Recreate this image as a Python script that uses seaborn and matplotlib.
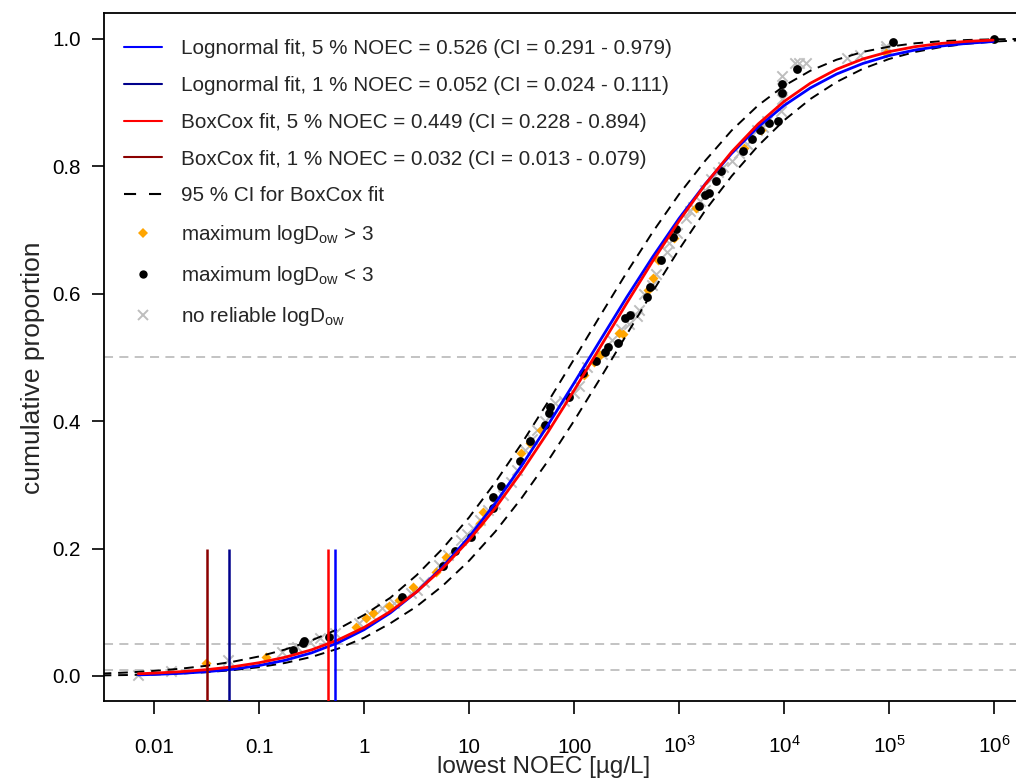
import numpy as np
import pandas as pd
import matplotlib
matplotlib.use("Agg")
import matplotlib.pyplot as plt
import seaborn as sns
from matplotlib.lines import Line2D
from matplotlib.legend_handler import HandlerLine2D

# ── values (x given as log10 of lowest NOEC in µg/L) ──
fit_log_noec = [-2.15, -2.0, -1.75, -1.5, -1.25, -1.0, -0.75, -0.5, -0.25, 0.0,
                0.25, 0.5, 0.75, 1.0, 1.25, 1.5, 1.75, 2.0, 2.25, 2.5,
                2.75, 3.0, 3.25, 3.5, 3.75, 4.0, 4.25, 4.5, 4.75, 5.0,
                5.25, 5.5, 5.75, 5.99]
lognormal_cdf = [0.00179, 0.00247, 0.00412, 0.00672, 0.01064, 0.01643, 0.02477, 0.03633,
                 0.05208, 0.07270, 0.09905, 0.13199, 0.17157, 0.21827, 0.27125, 0.32997,
                 0.39358, 0.45977, 0.52711, 0.59406, 0.65800, 0.71802, 0.77217, 0.81991,
                 0.86104, 0.89508, 0.92263, 0.94442, 0.96097, 0.97332, 0.98218, 0.98840,
                 0.99266, 0.99537]
boxcox_cdf = [0.00350, 0.00449, 0.00672, 0.00993, 0.01448, 0.02083, 0.02952, 0.04110,
              0.05648, 0.07621, 0.10132, 0.13199, 0.16929, 0.21330, 0.26370, 0.32060,
              0.38247, 0.44828, 0.51643, 0.58473, 0.65136, 0.71398, 0.77156, 0.82226,
              0.86563, 0.90147, 0.93002, 0.95184, 0.96806, 0.97952, 0.98736, 0.99250,
              0.99572, 0.99760]

ci_log_noec = [-2.5, -2.25, -2.0, -1.75, -1.5, -1.25, -1.0, -0.75, -0.5, -0.25,
               0.0, 0.25, 0.5, 0.75, 1.0, 1.25, 1.5, 1.75, 2.0, 2.25,
               2.5, 2.75, 3.0, 3.25, 3.5, 3.75, 4.0, 4.25, 4.5, 4.75,
               5.0, 5.25, 5.5, 5.75, 6.0, 6.25, 6.5]
ci_upper = [0.00379, 0.00554, 0.00798, 0.01139, 0.01606, 0.02237, 0.03067, 0.04164,
            0.05580, 0.07353, 0.09577, 0.12282, 0.15818, 0.20026, 0.24895, 0.30398,
            0.36467, 0.42975, 0.49725, 0.56572, 0.63292, 0.69694, 0.75597, 0.80873,
            0.85589, 0.89490, 0.92591, 0.94960, 0.96690, 0.97912, 0.98736, 0.99266,
            0.99592, 0.99783, 0.99889, 0.99946, 0.99975]
ci_lower = [0.00094, 0.00153, 0.00245, 0.00386, 0.00600, 0.00919, 0.01383, 0.02052,
            0.02992, 0.04281, 0.05997, 0.08272, 0.10917, 0.14185, 0.18089, 0.22667,
            0.27926, 0.33725, 0.40052, 0.46732, 0.53566, 0.60361, 0.66931, 0.73073,
            0.78427, 0.83147, 0.87182, 0.90524, 0.93195, 0.95263, 0.96806, 0.97912,
            0.98686, 0.99200, 0.99530, 0.99735, 0.99856]

# species points, split by maximum logDow class
high_log_noec = [-1.51, -0.93, -0.08, 0.02, 0.08, 0.24, 0.33, 0.47, 0.68, 0.78,
                 1.10, 1.13, 1.49, 1.58, 1.68, 2.09, 2.19, 2.25, 2.43, 2.47,
                 2.70, 2.75, 2.80, 2.95, 3.16, 3.62, 3.78, 4.97]
high_prop = [0.020, 0.030, 0.077, 0.091, 0.099, 0.110, 0.119, 0.139, 0.163, 0.187,
             0.240, 0.257, 0.350, 0.365, 0.386, 0.472, 0.492, 0.503, 0.538, 0.536,
             0.605, 0.625, 0.652, 0.687, 0.734, 0.828, 0.856, 0.977]

low_log_noec = [-0.68, -0.58, -0.57, -0.33, 0.36, 0.75, 0.87, 1.02, 1.23, 1.23,
                1.30, 1.48, 1.58, 1.72, 1.76, 1.77, 1.95, 2.08, 2.21, 2.29,
                2.32, 2.42, 2.48, 2.53, 2.69, 2.72, 2.83, 2.94, 2.97, 3.19,
                3.25, 3.28, 3.35, 3.40, 3.61, 3.69, 3.77, 3.86, 3.94, 3.98,
                3.98, 4.12, 5.04, 6.00]
low_prop = [0.041, 0.052, 0.055, 0.061, 0.124, 0.172, 0.196, 0.218, 0.263, 0.281,
            0.298, 0.337, 0.368, 0.393, 0.412, 0.422, 0.437, 0.475, 0.494, 0.509,
            0.516, 0.522, 0.561, 0.566, 0.594, 0.610, 0.652, 0.688, 0.702, 0.738,
            0.754, 0.757, 0.777, 0.793, 0.824, 0.843, 0.856, 0.867, 0.871, 0.915,
            0.929, 0.953, 0.994, 1.000]

none_log_noec = [-2.15, -1.84, -1.30, -0.78, -0.64, -0.52, -0.42, -0.28, -0.05, 0.07,
                 0.17, 0.28, 0.45, 0.50, 0.57, 0.71, 0.80, 0.92, 0.98, 1.04,
                 1.10, 1.18, 1.25, 1.32, 1.40, 1.46, 1.53, 1.60, 1.65, 1.72,
                 1.82, 1.90, 2.00, 2.05, 2.12, 2.27, 2.36, 2.45, 2.52, 2.60,
                 2.62, 2.67, 2.74, 2.78, 2.88, 2.90, 2.98, 3.07, 3.10, 3.13,
                 3.20, 3.25, 3.30, 3.37, 3.42, 3.50, 3.57, 3.65, 3.74, 3.80,
                 3.84, 3.97, 3.98, 3.98, 3.98, 4.10, 4.14, 4.21, 4.60, 4.72,
                 4.97, 4.97]
none_prop = [0.002, 0.008, 0.025, 0.038, 0.045, 0.053, 0.060, 0.067, 0.083, 0.096,
             0.107, 0.114, 0.130, 0.135, 0.147, 0.174, 0.190, 0.213, 0.222, 0.232,
             0.245, 0.260, 0.270, 0.284, 0.305, 0.323, 0.354, 0.372, 0.386, 0.400,
             0.428, 0.432, 0.444, 0.455, 0.484, 0.505, 0.527, 0.545, 0.552, 0.565,
             0.574, 0.600, 0.613, 0.630, 0.665, 0.680, 0.695, 0.719, 0.730, 0.735,
             0.745, 0.762, 0.780, 0.790, 0.798, 0.808, 0.820, 0.835, 0.856, 0.862,
             0.870, 0.887, 0.906, 0.923, 0.942, 0.962, 0.962, 0.962, 0.969, 0.975,
             0.984, 0.989]

hc_noec = [0.526, 0.052, 0.449, 0.032]
hc_colors = ["#0000FF", "#00008B", "#FF0000", "#8B0000"]
hc_labels = ["Lognormal fit, 5 % NOEC = 0.526 (CI = 0.291 - 0.979)",
             "Lognormal fit, 1 % NOEC = 0.052 (CI = 0.024 - 0.111)",
             "BoxCox fit, 5 % NOEC = 0.449 (CI = 0.228 - 0.894)",
             "BoxCox fit, 1 % NOEC = 0.032 (CI = 0.013 - 0.079)"]
ref_levels = [0.5, 0.05, 0.01]

x_ticks = [0.01, 0.1, 1, 10, 100, 1e3, 1e4, 1e5, 1e6]
x_tick_labels = ["0.01", "0.1", "1", "10", "100",
                 r"$\mathregular{10^{3}}$", r"$\mathregular{10^{4}}$",
                 r"$\mathregular{10^{5}}$", r"$\mathregular{10^{6}}$"]
y_ticks = [0.0, 0.2, 0.4, 0.6, 0.8, 1.0]


class EndMarkerHandler(HandlerLine2D):
    # put the legend symbol at the right end of the handle, like R's legend
    def get_xdata(self, legend, xdescent, ydescent, width, height, fontsize):
        xdata, _ = super().get_xdata(legend, xdescent, ydescent, width, height, fontsize)
        return xdata, np.array([-xdescent + width - 2.0])


sns.set_style("ticks")
plt.rcParams["font.family"] = ["Liberation Sans", "DejaVu Sans"]
plt.rcParams["mathtext.fontset"] = "custom"
plt.rcParams["mathtext.rm"] = "Liberation Sans"

fig = plt.figure(figsize=(10.16, 7.79), dpi=100)
# right edge of the plotting box lies just outside the picture, as in the reference
ax = fig.add_axes([0.1025, 0.0995, 0.9097, 0.8837])

dash = (0, (5, 3.5))

for lvl in ref_levels:
    ax.axhline(lvl, color="#BEBEBE", lw=1.3, ls=dash, zorder=1)

pts = pd.concat([
    pd.DataFrame({"noec": 10 ** np.array(none_log_noec), "prop": none_prop, "grp": "none"}),
    pd.DataFrame({"noec": 10 ** np.array(high_log_noec), "prop": high_prop, "grp": "high"}),
    pd.DataFrame({"noec": 10 ** np.array(low_log_noec), "prop": low_prop, "grp": "low"}),
])
sns.scatterplot(data=pts[pts.grp == "none"], x="noec", y="prop", marker="x",
                color="#BEBEBE", s=55, linewidth=1.4, ax=ax, zorder=2, legend=False)
sns.scatterplot(data=pts[pts.grp == "high"], x="noec", y="prop", marker="D",
                color="#FFA500", s=26, linewidth=0, ax=ax, zorder=3, legend=False)
sns.scatterplot(data=pts[pts.grp == "low"], x="noec", y="prop", marker="o",
                color="black", s=40, linewidth=0, ax=ax, zorder=4, legend=False)

ci_x = 10 ** np.array(ci_log_noec)
sns.lineplot(x=ci_x, y=ci_upper, color="black", lw=1.4, ax=ax, estimator=None,
             sort=False, zorder=5).lines[-1].set_linestyle(dash)
sns.lineplot(x=ci_x, y=ci_lower, color="black", lw=1.4, ax=ax, estimator=None,
             sort=False, zorder=5).lines[-1].set_linestyle(dash)

fit_x = 10 ** np.array(fit_log_noec)
sns.lineplot(x=fit_x, y=lognormal_cdf, color="#0000FF", lw=2.0, ax=ax,
             estimator=None, sort=False, zorder=6)
sns.lineplot(x=fit_x, y=boxcox_cdf, color="#FF0000", lw=2.0, ax=ax,
             estimator=None, sort=False, zorder=6)

ax.vlines(hc_noec, -0.1, 0.2, colors=hc_colors, lw=1.8, zorder=6)

ax.set_xscale("log")
ax.set_xlim(10 ** -2.476, 10 ** 6.326)
ax.set_ylim(-0.04, 1.04)

ax.set_xticks(x_ticks)
ax.set_xticklabels(x_tick_labels)
ax.xaxis.set_minor_locator(plt.NullLocator())
ax.set_yticks(y_ticks)
ax.set_yticklabels([f"{v:.1f}" for v in y_ticks])
ax.tick_params(axis="both", direction="out", length=9, width=1.2,
               labelsize=14.9, color="black", labelcolor="black")
ax.tick_params(axis="x", pad=28)
ax.tick_params(axis="y", pad=8)
for lbl in ax.get_xticklabels():
    lbl.set_verticalalignment("baseline")

for sp in ax.spines.values():
    sp.set_linewidth(1.3)
    sp.set_color("black")

ax.set_xlabel("lowest NOEC [µg/L]", fontsize=17.5)
ax.xaxis.set_label_coords(0.476, -0.079)
ax.set_ylabel("cumulative proportion", fontsize=19)
ax.yaxis.set_label_coords(-0.064, 0.485)

handles = [Line2D([], [], color=c, lw=1.5) for c in hc_colors]
handles.append(Line2D([], [], color="black", lw=1.5, ls=(0, (5.8, 6.2))))
pt_handles = [
    Line2D([], [], color="#FFA500", marker="D", ls="none", ms=5.5, mew=0),
    Line2D([], [], color="black", marker="o", ls="none", ms=6, mew=0),
    Line2D([], [], color="#BEBEBE", marker="x", ls="none", ms=7.5, mew=1.4),
]
labels = hc_labels + ["95 % CI for BoxCox fit",
                      r"maximum logD$_{\mathregular{ow}}$ > 3",
                      r"maximum logD$_{\mathregular{ow}}$ < 3",
                      r"no reliable logD$_{\mathregular{ow}}$"]
ax.legend(handles + pt_handles, labels, loc="upper left",
          bbox_to_anchor=(0.021, 0.962), frameon=False, fontsize=14.9,
          handlelength=1.85, handletextpad=0.95, labelspacing=0.86,
          borderpad=0, borderaxespad=0,
          handler_map={h: EndMarkerHandler() for h in pt_handles})

fig.savefig("out.png", dpi=100)
